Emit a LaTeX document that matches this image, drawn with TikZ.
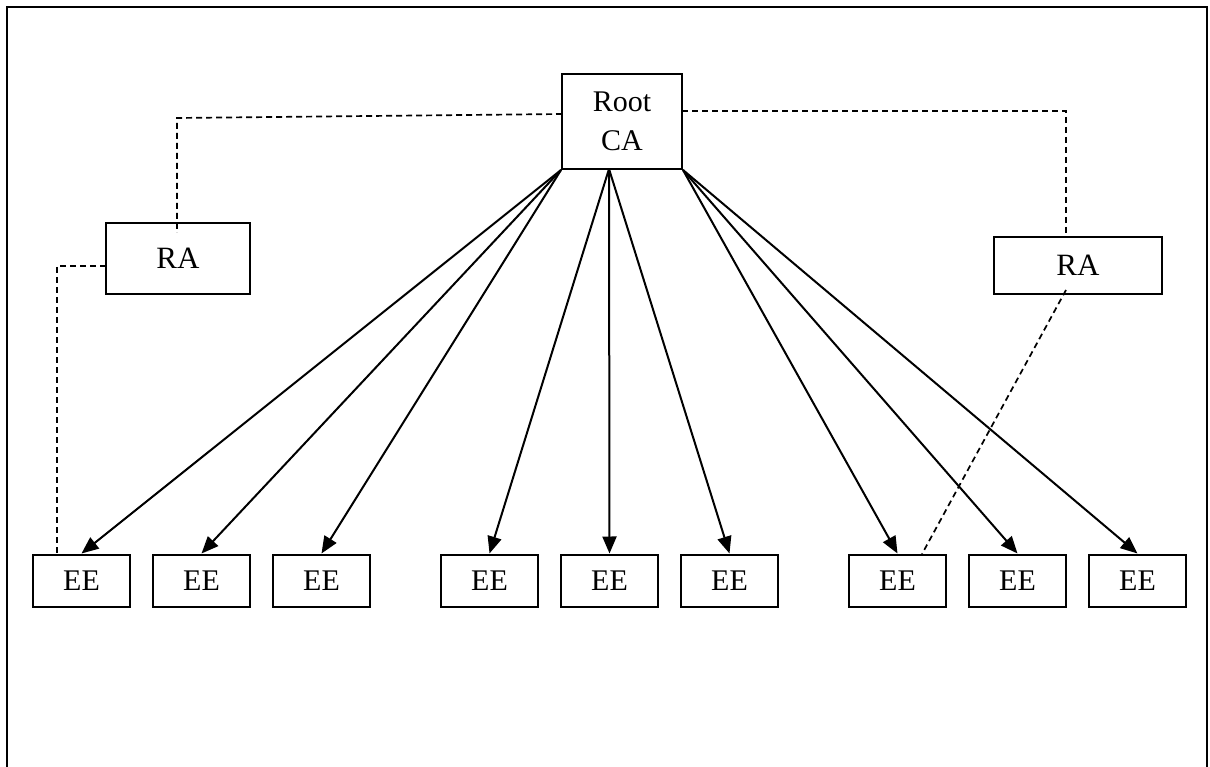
\documentclass[tikz,border=0pt]{standalone}
\usepackage{fontspec}
\setmainfont{Liberation Serif}
\usetikzlibrary{arrows.meta}
\begin{document}
\begin{tikzpicture}[x=1pt,y=-1pt,
  box/.style={draw,line width=2pt,inner sep=0pt,align=center},
  eebox/.style={box,minimum width=97pt,minimum height=52pt,font=\fontsize{30}{34}\selectfont},
  rabox/.style={box,font=\fontsize{31}{36}\selectfont},
  link/.style={line width=2pt,-{Triangle[length=17pt,width=14pt]}},
  dashline/.style={line width=1.7pt,dash pattern=on 6pt off 4pt}]
  \useasboundingbox (0,0) rectangle (1210,767);
  % outer frame, open at the bottom edge of the page
  \draw[line width=2.2pt] (7,790) -- (7,7) -- (1207,7) -- (1207,790);

  % root certification authority
  \node[box,minimum width=120pt,minimum height=95pt,
        font=\fontsize{30}{38.5}\selectfont] (root) at (622,121.5) {Root\\CA};

  % registration authorities
  \node[rabox,minimum width=144pt,minimum height=71pt] (raL) at (178,258.5) {RA};
  \node[rabox,minimum width=168pt,minimum height=57pt] (raR) at (1078,265.5) {RA};

  % end entities
  \foreach \i/\x in {1/81.5,2/201.5,3/321.5,4/489.5,5/609.5,6/729.5,7/897.5,8/1017.5,9/1137.5}
    \node[eebox] (ee\i) at (\x,580.5) {EE};

  % certificate issuance from the root CA
  \foreach \i in {1,2,3} \draw[link] (root.south west) -- (ee\i.north);
  \coordinate (rootmid) at (609,169);
  \foreach \i in {4,5,6} \draw[link] (rootmid) -- (ee\i.north);
  \foreach \i in {7,8,9} \draw[link] (root.south east) -- (ee\i.north);

  % dashed registration paths
  \coordinate (rootL) at (562,114);
  \coordinate (bendL) at (177,118);
  \coordinate (inL) at (177,233);
  \draw[dashline] (rootL) -- (bendL) -- (inL);

  \coordinate (raLw) at (106,266);
  \coordinate (bendLL) at (57,266);
  \coordinate (eeL) at (57,554);
  \draw[dashline] (raLw) -- (bendLL) -- (eeL);

  \coordinate (rootR) at (682,111);
  \coordinate (bendR) at (1066,111);
  \coordinate (inR) at (1066,236);
  \draw[dashline] (rootR) -- (bendR) -- (inR);

  \coordinate (raRin) at (1066,290);
  \coordinate (eeR) at (922,554);
  \draw[dashline] (raRin) -- (eeR);
\end{tikzpicture}
\end{document}
